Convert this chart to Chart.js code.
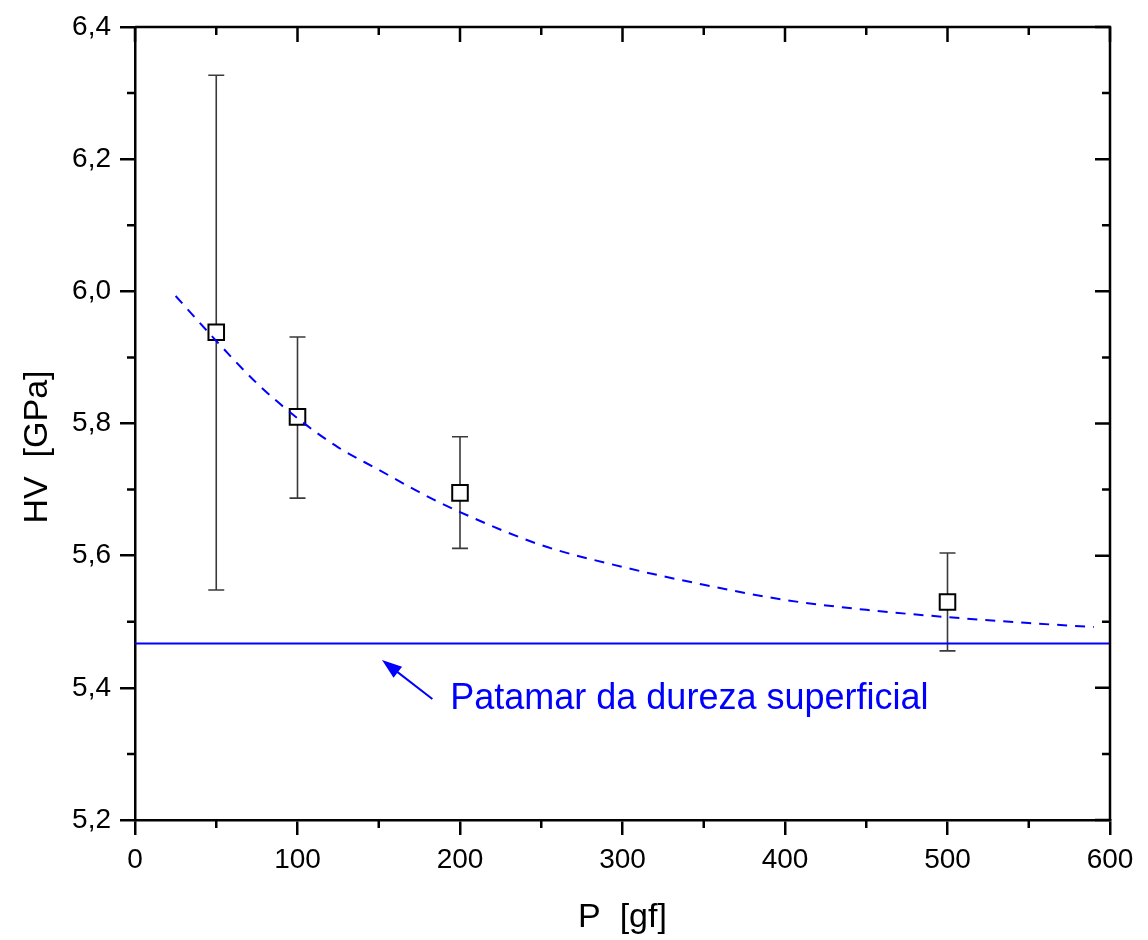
<!DOCTYPE html>
<html>
<head>
<meta charset="utf-8">
<script src="https://cdn.jsdelivr.net/npm/chart.js@4.4.1/dist/chart.umd.min.js"></script>
<style>
  html, body { margin: 0; padding: 0; background: #fff; }
  #wrap { width: 1148px; height: 940px; }
</style>
</head>
<body>
<div id="wrap"><canvas id="hvChart" width="1148" height="940"></canvas></div>
<script>
// measured points (load in gf, hardness in GPa)
const loads = [50, 100, 200, 500];
const hvMean = [5.938, 5.810, 5.695, 5.530];
const hvLow = [5.548, 5.687, 5.611, 5.456];
const hvHigh = [6.327, 5.931, 5.780, 5.604];

// dashed fit curve
const fitX = [25, 50, 75, 100, 125, 150, 175, 200, 250, 300, 350, 400, 450, 500, 550, 590];
const fitY = [5.993, 5.925, 5.861, 5.808, 5.764, 5.730, 5.696, 5.666, 5.616, 5.583, 5.556, 5.533, 5.518, 5.507, 5.498, 5.492];

// surface hardness plateau
const plateauX = [0, 600];
const plateauY = [5.467, 5.467];

// annotation (data coords)
const arrowTip = { x: 152, y: 5.442 };
const arrowTail = { x: 183, y: 5.383 };
const noteText = "Patamar da dureza superficial";
const notePos = { x: 194, y: 5.383 };

const xTicks = [0, 100, 200, 300, 400, 500, 600];
const yTicks = [5.2, 5.4, 5.6, 5.8, 6.0, 6.2, 6.4];

const FONT = "'Liberation Sans', Arial, sans-serif";
const BLUE = "#0000ff";

const errorBars = {
  id: "errorBars",
  beforeDatasetsDraw(chart) {
    const { ctx, scales: { x, y } } = chart;
    ctx.save();
    ctx.strokeStyle = "#3a3a3a";
    ctx.lineWidth = 1.6;
    loads.forEach((p, i) => {
      const px = x.getPixelForValue(p);
      const top = y.getPixelForValue(hvHigh[i]);
      const bot = y.getPixelForValue(hvLow[i]);
      ctx.beginPath();
      ctx.moveTo(px, top); ctx.lineTo(px, bot);
      ctx.moveTo(px - 8, top); ctx.lineTo(px + 8, top);
      ctx.moveTo(px - 8, bot); ctx.lineTo(px + 8, bot);
      ctx.stroke();
    });
    ctx.restore();
  }
};

const frameAndNotes = {
  id: "frameAndNotes",
  afterDraw(chart) {
    const { ctx, chartArea: a, scales: { x, y } } = chart;
    ctx.save();
    ctx.strokeStyle = "#000";
    ctx.lineWidth = 2.5;
    // top and right axis lines
    ctx.beginPath();
    ctx.moveTo(a.left, a.top); ctx.lineTo(a.right, a.top); ctx.lineTo(a.right, a.bottom);
    ctx.stroke();

    // major ticks inward on top / right
    ctx.beginPath();
    xTicks.forEach(v => {
      const px = x.getPixelForValue(v);
      ctx.moveTo(px, a.top); ctx.lineTo(px, a.top + 15);
    });
    yTicks.forEach(v => {
      const py = y.getPixelForValue(v);
      ctx.moveTo(a.right, py); ctx.lineTo(a.right - 15, py);
    });
    // minor ticks
    for (let i = 0; i < xTicks.length - 1; i++) {
      const px = x.getPixelForValue((xTicks[i] + xTicks[i + 1]) / 2);
      ctx.moveTo(px, a.bottom); ctx.lineTo(px, a.bottom + 8);
      ctx.moveTo(px, a.top); ctx.lineTo(px, a.top + 8);
    }
    for (let i = 0; i < yTicks.length - 1; i++) {
      const py = y.getPixelForValue((yTicks[i] + yTicks[i + 1]) / 2);
      ctx.moveTo(a.left, py); ctx.lineTo(a.left - 8, py);
      ctx.moveTo(a.right, py); ctx.lineTo(a.right - 8, py);
    }
    ctx.stroke();

    // axis titles
    ctx.fillStyle = "#000";
    ctx.font = "34px " + FONT;
    ctx.textAlign = "center";
    ctx.textBaseline = "alphabetic";
    ctx.fillText("P  [gf]", (a.left + a.right) / 2, 927);
    ctx.save();
    ctx.translate(47, 447);
    ctx.rotate(-Math.PI / 2);
    ctx.fillText("HV  [GPa]", 0, 0);
    ctx.restore();

    // arrow
    const tx = x.getPixelForValue(arrowTip.x), ty = y.getPixelForValue(arrowTip.y);
    const sx = x.getPixelForValue(arrowTail.x), sy = y.getPixelForValue(arrowTail.y);
    const ang = Math.atan2(ty - sy, tx - sx);
    ctx.strokeStyle = BLUE;
    ctx.fillStyle = BLUE;
    ctx.lineWidth = 2;
    ctx.beginPath();
    ctx.moveTo(sx, sy);
    ctx.lineTo(tx - 14 * Math.cos(ang), ty - 14 * Math.sin(ang));
    ctx.stroke();
    ctx.beginPath();
    ctx.moveTo(tx, ty);
    ctx.lineTo(tx - 20 * Math.cos(ang) + 7 * Math.sin(ang), ty - 20 * Math.sin(ang) - 7 * Math.cos(ang));
    ctx.lineTo(tx - 20 * Math.cos(ang) - 7 * Math.sin(ang), ty - 20 * Math.sin(ang) + 7 * Math.cos(ang));
    ctx.closePath();
    ctx.fill();

    // note text
    ctx.font = "36px " + FONT;
    ctx.textAlign = "left";
    ctx.textBaseline = "middle";
    ctx.fillText(noteText, x.getPixelForValue(notePos.x), y.getPixelForValue(notePos.y));
    ctx.restore();
  }
};

const fmt = v => v.toFixed(1).replace(".", ",");

new Chart(document.getElementById("hvChart"), {
  type: "scatter",
  data: {
    datasets: [
      {
        type: "line",
        data: fitX.map((v, i) => ({ x: v, y: fitY[i] })),
        borderColor: BLUE,
        borderWidth: 2,
        borderDash: [10, 8],
        pointRadius: 0,
        cubicInterpolationMode: "monotone",
        fill: false
      },
      {
        data: loads.map((v, i) => ({ x: v, y: hvMean[i] })),
        pointStyle: "rect",
        pointRadius: 11,
        pointHoverRadius: 11,
        backgroundColor: "#fff",
        borderColor: "#000",
        borderWidth: 2
      },
      {
        type: "line",
        data: plateauX.map((v, i) => ({ x: v, y: plateauY[i] })),
        borderColor: BLUE,
        borderWidth: 2,
        pointRadius: 0,
        fill: false
      }
    ]
  },
  options: {
    responsive: false,
    animation: false,
    events: [],
    layout: { padding: { top: 27, right: 38, left: 0, bottom: 0 } },
    plugins: { legend: { display: false }, tooltip: { enabled: false } },
    scales: {
      x: {
        type: "linear",
        min: 0, max: 600,
        afterBuildTicks: s => { s.ticks = xTicks.map(v => ({ value: v })); },
        afterFit: s => { s.height = 120; },
        ticks: {
          color: "#000",
          font: { family: FONT, size: 28 },
          padding: 8,
          maxRotation: 0,
          callback: v => String(v)
        },
        grid: { drawOnChartArea: false, tickLength: 15, color: "#000", lineWidth: 2.5 },
        border: { display: true, color: "#000", width: 2.5 }
      },
      y: {
        type: "linear",
        min: 5.2, max: 6.4,
        afterBuildTicks: s => { s.ticks = yTicks.map(v => ({ value: v })); },
        afterFit: s => { s.width = 135; },
        ticks: {
          color: "#000",
          font: { family: FONT, size: 28 },
          padding: 9,
          callback: v => fmt(v)
        },
        grid: { drawOnChartArea: false, tickLength: 15, color: "#000", lineWidth: 2.5 },
        border: { display: true, color: "#000", width: 2.5 }
      }
    }
  },
  plugins: [errorBars, frameAndNotes]
});
</script>
</body>
</html>
